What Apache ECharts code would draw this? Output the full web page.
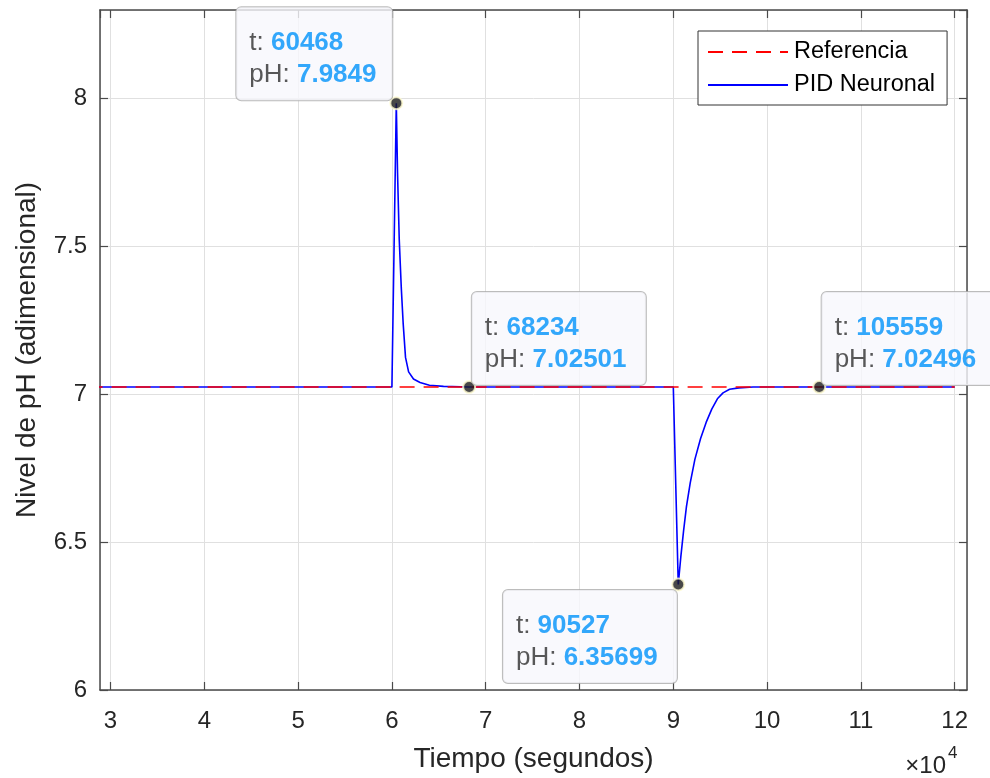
<!DOCTYPE html>
<html>
<head>
<meta charset="utf-8">
<script src="https://cdn.jsdelivr.net/npm/echarts@6/dist/echarts.min.js"></script>
<style>
  html, body { margin: 0; padding: 0; background: #ffffff; }
  #chart { width: 990px; height: 778px; }
</style>
</head>
<body>
<div id="chart"></div>
<script>
// Closed-loop pH response of the neural PID controller
const pidTime = [25000, 60000, 60468, 60600, 60780, 61000, 61200, 61450, 61780, 62300, 63000, 64000, 65500, 68234,
                 90000, 90527, 90800, 91100, 91400, 91800, 92300, 92900, 93500, 94100, 94700, 95300, 96000, 97000, 98500, 105559, 120000];
const pidPH   = [7.025, 7.025, 7.9849, 7.75, 7.525, 7.36, 7.24, 7.125, 7.076, 7.052, 7.04, 7.031, 7.027, 7.02501,
                 7.025, 6.35699, 6.45, 6.54, 6.62, 6.70, 6.78, 6.85, 6.905, 6.95, 6.985, 7.005, 7.017, 7.022, 7.025, 7.02496, 7.025];

// Set-point
const refTime = [25000, 120000];
const refPH   = [7.025, 7.025];

// Highlighted samples
const tipTime = [60468, 68234, 90527, 105559];
const tipPH   = [7.9849, 7.02501, 6.35699, 7.02496];

// Axis settings
const xMin = 28880, xMax = 121310;
const yMin = 6, yMax = 8.3, yStep = 0.5;
const seriesNames = ['Referencia', 'PID Neuronal'];

const FONT = '"Liberation Sans", Arial, Helvetica, sans-serif';
const AX = '#262626';

const zip = (a, b) => a.map((v, i) => [v, b[i]]);

// box placement for each highlighted sample, relative to its dot
const tipPlacement = [
  { position: [-153, 4], verticalAlign: 'bottom', width: 129 },
  { position: [9.7, 5], verticalAlign: 'bottom', width: 147 },
  { position: [-168.3, 12.5], verticalAlign: 'top', width: 147 },
  { position: [9.4, 5], verticalAlign: 'bottom', width: 147 }
];

const tipData = tipTime.map((t, i) => ({
  value: [t, tipPH[i]],
  label: Object.assign({
    show: true,
    align: 'left',
    formatter: '{k|t: }{v|' + t + '}\n{k|pH: }{v|' + String(tipPH[i]) + '}'
  }, tipPlacement[i])
}));

const gridLine = { show: true, lineStyle: { color: '#e0e0e0', width: 1 } };
const frameLine = { show: true, onZero: false, lineStyle: { color: '#4a4a4a', width: 1.5 } };
const innerTick = { show: true, inside: true, length: 8, lineStyle: { color: '#4a4a4a', width: 1.2 } };

const chart = echarts.init(document.getElementById('chart'), null, { renderer: 'canvas' });

chart.setOption({
  animation: false,
  backgroundColor: '#ffffff',
  textStyle: { fontFamily: FONT },
  grid: { left: 100, top: 10, right: 23, bottom: 85, containLabel: false },
  legend: {
    data: seriesNames,
    orient: 'vertical',
    left: 698,
    top: 31,
    padding: [9, 12, 8, 9],
    itemGap: 9,
    itemWidth: 80,
    itemHeight: 2,
    itemStyle: { opacity: 0 },
    backgroundColor: '#ffffff',
    borderColor: '#333333',
    borderWidth: 1,
    borderRadius: 0,
    textStyle: { fontFamily: FONT, fontSize: 23.5, color: '#000000', padding: [0, 0, 0, 1] }
  },
  xAxis: [
    {
      type: 'value', min: xMin, max: xMax, splitNumber: 9, position: 'bottom',
      name: 'Tiempo (segundos)', nameLocation: 'middle', nameGap: 55,
      nameTextStyle: { fontFamily: FONT, fontSize: 28, color: AX },
      axisLine: frameLine, axisTick: innerTick, splitLine: gridLine,
      axisLabel: { show: true, showMinLabel: false, showMaxLabel: false, margin: 19, fontSize: 24, color: AX, fontFamily: FONT,
                   formatter: v => String(Math.round(v / 10000)) }
    },
    {
      type: 'value', min: xMin, max: xMax, splitNumber: 9, position: 'top',
      axisLine: frameLine, axisTick: innerTick, splitLine: { show: false }, axisLabel: { show: false }
    }
  ],
  yAxis: [
    {
      type: 'value', min: yMin, max: yMax, interval: yStep, position: 'left',
      name: 'Nivel de pH (adimensional)', nameLocation: 'middle', nameGap: 59,
      nameTextStyle: { fontFamily: FONT, fontSize: 28, color: AX },
      axisLine: frameLine, axisTick: innerTick, splitLine: gridLine,
      axisLabel: { show: true, showMaxLabel: false, margin: 13, fontSize: 24, color: AX, fontFamily: FONT,
                   formatter: v => String(v) }
    },
    {
      type: 'value', min: yMin, max: yMax, interval: yStep, position: 'right',
      axisLine: frameLine, axisTick: innerTick, splitLine: { show: false }, axisLabel: { show: false }
    }
  ],
  series: [
    {
      name: seriesNames[0], type: 'line', data: zip(refTime, refPH), symbol: 'none', z: 3,
      lineStyle: { color: '#ff0000', width: 1.4, type: [15, 9] },
      itemStyle: { color: '#ff0000' }
    },
    {
      name: seriesNames[1], type: 'line', data: zip(pidTime, pidPH), symbol: 'none', z: 2,
      lineStyle: { color: '#0000ff', width: 1.6 },
      itemStyle: { color: '#0000ff' }
    },
    {
      name: 'tips', type: 'scatter', data: tipData, z: 10,
      symbol: 'circle', symbolSize: 12,
      itemStyle: { color: '#1a1a1a', borderColor: '#fffbd2', borderWidth: 2 },
      label: {
        backgroundColor: '#f8f8fd',
        borderColor: '#ababab',
        borderWidth: 1,
        borderRadius: 5,
        padding: [20, 14, 9, 13],
        rich: {
          k: { fontFamily: FONT, fontSize: 26, color: '#2e2e2e', lineHeight: 32 },
          v: { fontFamily: FONT, fontSize: 26, color: '#0092fa', fontWeight: 'bold', lineHeight: 32 }
        }
      }
    }
  ],
  graphic: [
    { type: 'text', right: 44, top: 754, style: { text: '×10', font: '24px ' + FONT, fill: AX } },
    { type: 'text', left: 948, top: 745, style: { text: '4', font: '17px ' + FONT, fill: AX } }
  ]
});
</script>
</body>
</html>
